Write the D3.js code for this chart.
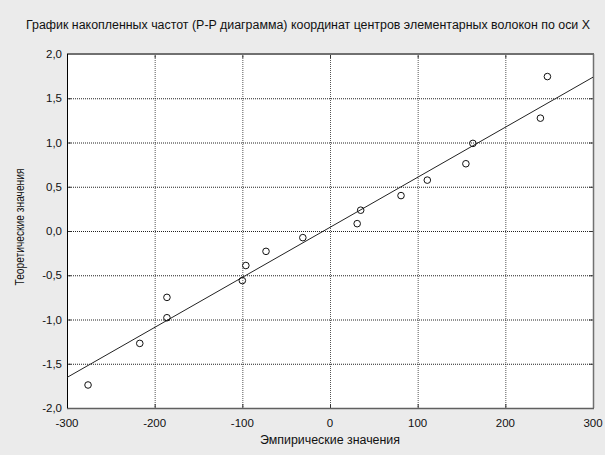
<!DOCTYPE html>
<html>
<head>
<meta charset="utf-8">
<script src="https://cdn.jsdelivr.net/npm/d3@7"></script>
<style>
  body { margin: 0; background: #ebebeb; }
  svg { display: block; font-family: "Liberation Sans", Arial, sans-serif; }
</style>
</head>
<body>
<svg id="chart" width="605" height="455"></svg>
<script>
// empirical (x) values of the points
const empirical = [-276, -217, -186, -186, -100, -96, -73, -31, 31, 35, 81, 111, 155, 163, 240, 248];
// theoretical (y) values of the points
const theoretical = [-1.74, -1.27, -0.75, -0.98, -0.56, -0.39, -0.23, -0.075, 0.083, 0.235, 0.40, 0.575, 0.76, 0.99, 1.275, 1.745];
// fitted line end points
const fitX = [-300, 300];
const fitY = [-1.655, 1.738];

const xTicks = [-300, -200, -100, 0, 100, 200, 300];
const yTicks = [-2, -1.5, -1, -0.5, 0, 0.5, 1, 1.5, 2];

const title = "График накопленных частот (P-P диаграмма) координат центров элементарных волокон по оси X";
const xTitle = "Эмпирические значения";
const yTitle = "Теоретические значения";

let margin = { top: 54, right: 12, bottom: 47, left: 67 };
let width = 605, height = 455;
let svg = d3.select("#chart");

let x = d3.scaleLinear().domain([-300, 300]).range([margin.left, width - margin.right]);
let y = d3.scaleLinear().domain([-2, 2]).range([height - margin.bottom, margin.top]);

let fmt = d => d3.format(".1f")(d).replace(".", ",").replace("−", "-");

// plot background
svg.append("rect")
  .attr("x", x(-300)).attr("y", y(2))
  .attr("width", x(300) - x(-300)).attr("height", y(-2) - y(2))
  .style("fill", "#fff");

// grid
svg.append("g").selectAll("line")
  .data(xTicks.slice(1, -1))
  .join("line")
  .attr("x1", d => x(d) + 0.5).attr("x2", d => x(d) + 0.5)
  .attr("y1", y(2)).attr("y2", y(-2))
  .style("stroke", "#555").style("stroke-dasharray", "1,1");

svg.append("g").selectAll("line")
  .data(yTicks.slice(1, -1))
  .join("line")
  .attr("x1", x(-300)).attr("x2", x(300))
  .attr("y1", d => y(d) + 0.5).attr("y2", d => y(d) + 0.5)
  .style("stroke", "#222").style("stroke-dasharray", "1,1");

// inner ticks
let tk = 4;
let ticks = svg.append("g").style("stroke", "#333");
xTicks.slice(1, -1).forEach(d => {
  ticks.append("line").attr("x1", x(d) + 0.5).attr("x2", x(d) + 0.5).attr("y1", y(2)).attr("y2", y(2) + tk);
  ticks.append("line").attr("x1", x(d) + 0.5).attr("x2", x(d) + 0.5).attr("y1", y(-2)).attr("y2", y(-2) - tk);
});
yTicks.slice(1, -1).forEach(d => {
  ticks.append("line").attr("x1", x(-300)).attr("x2", x(-300) + tk).attr("y1", y(d) + 0.5).attr("y2", y(d) + 0.5);
  ticks.append("line").attr("x1", x(300)).attr("x2", x(300) - tk).attr("y1", y(d) + 0.5).attr("y2", y(d) + 0.5);
});

// frame
svg.append("line").attr("x1", x(-300)).attr("x2", x(300) + 1).attr("y1", y(2)).attr("y2", y(2))
  .style("stroke", "#707070").style("stroke-width", 2);
svg.append("line").attr("x1", x(300) + 0.5).attr("x2", x(300) + 0.5).attr("y1", y(2)).attr("y2", y(-2))
  .style("stroke", "#707070").style("stroke-width", 1.5);
svg.append("line").attr("x1", x(-300)).attr("x2", x(300) + 1).attr("y1", y(-2) + 0.5).attr("y2", y(-2) + 0.5)
  .style("stroke", "#606060").style("stroke-width", 1.5);
svg.append("line").attr("x1", x(-300) + 0.5).attr("x2", x(-300) + 0.5).attr("y1", y(2)).attr("y2", y(-2))
  .style("stroke", "#000").style("stroke-width", 1);

// fitted line
svg.append("path")
  .datum(fitX.map((d, i) => [d, fitY[i]]))
  .attr("d", d3.line().x(d => x(d[0])).y(d => y(d[1])))
  .style("fill", "none").style("stroke", "#222").style("stroke-width", 1);

// points
svg.append("g").selectAll("circle")
  .data(empirical.map((d, i) => [d, theoretical[i]]))
  .join("circle")
  .attr("cx", d => x(d[0])).attr("cy", d => y(d[1])).attr("r", 3.3)
  .style("fill", "none").style("stroke", "#111").style("stroke-width", 1);

// tick labels
svg.append("g").selectAll("text")
  .data(xTicks).join("text")
  .attr("x", d => x(d)).attr("y", y(-2) + 19)
  .attr("text-anchor", "middle")
  .style("font-size", "11.5px").style("fill", "#111")
  .text(d => d3.format("d")(d).replace("−", "-"));

svg.append("g").selectAll("text")
  .data(yTicks).join("text")
  .attr("x", x(-300) - 5).attr("y", d => y(d) + 4)
  .attr("text-anchor", "end")
  .style("font-size", "11.5px").style("fill", "#111")
  .text(fmt);

// titles
svg.append("text").attr("x", 308).attr("y", 29).attr("text-anchor", "middle")
  .attr("textLength", 564).attr("lengthAdjust", "spacingAndGlyphs")
  .style("font-size", "12px").style("fill", "#111").text(title);
svg.append("text").attr("x", x(0)).attr("y", 444).attr("text-anchor", "middle")
  .attr("textLength", 140).attr("lengthAdjust", "spacingAndGlyphs")
  .style("font-size", "12px").style("fill", "#111").text(xTitle);
svg.append("text").attr("transform", "translate(24,227) rotate(-90)")
  .attr("text-anchor", "middle")
  .attr("textLength", 117).attr("lengthAdjust", "spacingAndGlyphs")
  .style("font-size", "12px").style("fill", "#111").text(yTitle);
</script>
</body>
</html>
